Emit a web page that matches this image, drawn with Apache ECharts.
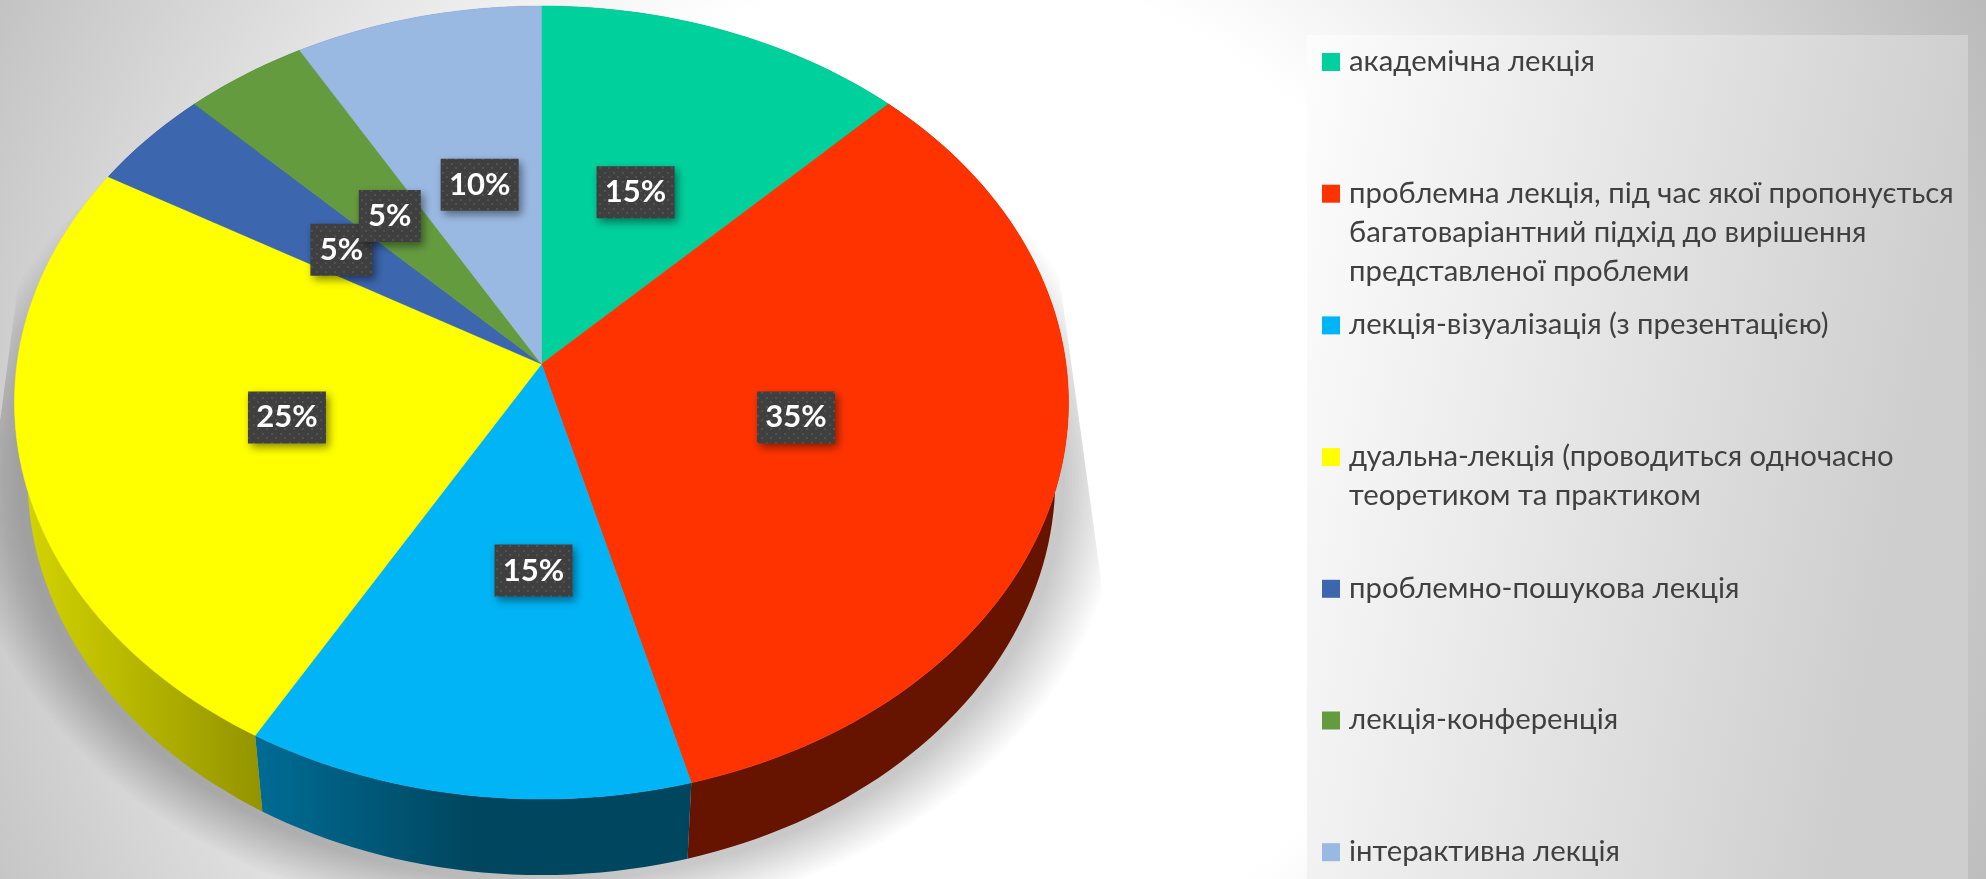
<!DOCTYPE html>
<html>
<head>
<meta charset="utf-8">
<title>Лекції</title>
<style>
  html, body { margin: 0; padding: 0; background: #fff; }
  #chart { width: 1986px; height: 879px; }
</style>
<script src="https://cdn.jsdelivr.net/npm/echarts@6/dist/echarts.min.js"></script>
</head>
<body>
<div id="chart"></div>
<script>
// legend names, \n is where the reference wraps
var categories = [
  'академічна лекція',
  'проблемна лекція, під час якої пропонується\nбагатоваріантний підхід до вирішення\nпредставленої проблеми',
  'лекція-візуалізація (з презентацією)',
  'дуальна-лекція (проводиться одночасно\nтеоретиком та практиком',
  'проблемно-пошукова лекція',
  'лекція-конференція',
  'інтерактивна лекція'
];
// the wedges as they are drawn in the picture
var sliceValues = [15, 40, 15, 30, 5, 5, 10];
// the labels as printed, they do not follow the wedge sizes exactly in the source
var percentLabels = ['15%', '35%', '15%', '25%', '5%', '5%', '10%'];
var topColors = ['#00D09C', '#FF3300', '#00B4F5', '#FFFF00', '#3C66AE', '#659B3F', '#9AB9E2'];
var wallColors = [
  ['#00806a', '#00806a', '#00806a'],
  ['#661400', '#661400', '#661400'],
  ['#006c96', '#00465e', '#00465e'],
  ['#d6d600', '#b5b500', '#939300'],
  ['#24406e', '#24406e', '#24406e'],
  ['#3f6127', '#3f6127', '#3f6127'],
  ['#5f748f', '#5f748f', '#5f748f']
];
// hand placement of the boxes in the source, in px from the wedge centre
var labelShiftX = [-2, -2, 28, 2, 2, 2, 3];

var FONT = 'Lato, "Open Sans", sans-serif';

// disc projection: apex of the slices, axes and perspective
var APEX_X = 541.5, APEX_Y = 364;
var AX = 524.5, BY = 392.8, PERSP = 0.0971;
var RIM_DROP = 76, RIM_SHRINK = 0.975;
var SHADOW_STEPS = 18;
var total = sliceValues.reduce(function (a, b) { return a + b; }, 0);

function project(deg, f) {
  var t = deg * Math.PI / 180;
  var u = Math.sin(t) * f, v = -Math.cos(t) * f;
  var w = 1 - PERSP * v;
  return [APEX_X + AX * u / w, APEX_Y + BY * v / w];
}
function sliceAngles(i) {
  var before = 0;
  for (var k = 0; k < i; k++) before += sliceValues[k];
  return [before / total * 360, (before + sliceValues[i]) / total * 360];
}
function arc(a0, a1) {
  var pts = [];
  var n = Math.max(2, Math.ceil((a1 - a0) / 1.5));
  for (var k = 0; k <= n; k++) pts.push(project(a0 + (a1 - a0) * k / n, 1));
  return pts;
}
function toRim(p) {
  return [APEX_X + (p[0] - APEX_X) * RIM_SHRINK, p[1] + RIM_DROP];
}
// the shadow is cut by two straight edges left and right of the disc
function clampShadow(p) {
  var maxX = 1082 + (p[1] - 440) * 0.1377;
  var minX = 18 - (p[1] - 283) * 0.131;
  return [Math.max(minX, Math.min(maxX, p[0])), p[1]];
}

// dotted fill of the label boxes
function dotTile() {
  var c = document.createElement('canvas');
  c.width = 9; c.height = 9;
  var g = c.getContext('2d');
  g.fillStyle = '#3f3f3f';
  g.fillRect(0, 0, 9, 9);
  g.fillStyle = '#515151';
  g.fillRect(1, 1, 2, 2);
  g.fillRect(5, 5, 2, 2);
  return c;
}
var tile = dotTile();

var chart = echarts.init(document.getElementById('chart'), null, { renderer: 'canvas' });

var legendGraphics = [];
categories.forEach(function (name, i) {
  var rowY = 62 + i * 131.7;
  legendGraphics.push({
    type: 'rect', z: 5,
    shape: { x: 1322, y: rowY - 9, width: 18, height: 18 },
    style: { fill: topColors[i] }
  });
  legendGraphics.push({
    type: 'text', z: 5, x: 1349, y: rowY - 20,
    style: { text: name, font: '400 29.3px ' + FONT, fill: '#404040', lineHeight: 39, textVerticalAlign: 'top' }
  });
});

var option = {
  animation: false,
  backgroundColor: {
    type: 'radial', x: 950, y: 470, r: 1200, global: true,
    colorStops: [
      { offset: 0, color: '#ffffff' },
      { offset: 0.417, color: '#ffffff' },
      { offset: 1, color: '#b4b4b4' }
    ]
  },
  graphic: [{
    type: 'rect', z: 1,
    shape: { x: 1307, y: 35, width: 661, height: 844 },
    style: {
      fill: new echarts.graphic.LinearGradient(0, 0, 1, 0.15, [
        { offset: 0, color: '#fdfdfd' },
        { offset: 1, color: '#cecece' }
      ])
    }
  }].concat(legendGraphics),
  series: [
    // ground shadow: stacked translucent rings give the soft outer edge
    {
      type: 'custom', coordinateSystem: 'none', z: 2, silent: true,
      data: [0],
      renderItem: function () {
        var rings = [];
        for (var s = 0; s < SHADOW_STEPS; s++) {
          var scale = 1.13 - 0.11 * s / (SHADOW_STEPS - 1);
          var ring = arc(0, 360).map(toRim).map(function (p) {
            return clampShadow([APEX_X + (p[0] - APEX_X) * scale, 478 + (p[1] - 478) * scale]);
          });
          rings.push({ type: 'polygon', shape: { points: ring }, style: { fill: 'rgba(0,0,0,0.0125)' } });
        }
        return { type: 'group', children: rings };
      }
    },
    // side walls
    {
      type: 'custom', coordinateSystem: 'none', z: 3, silent: true,
      data: sliceValues,
      renderItem: function (params) {
        var i = params.dataIndex;
        var ang = sliceAngles(i);
        var top = arc(ang[0], ang[1]);
        var rim = top.map(toRim).reverse();
        return {
          type: 'polygon',
          shape: { points: top.concat(rim) },
          style: {
            fill: new echarts.graphic.LinearGradient(0, 0, 1, 0, [
              { offset: 0, color: wallColors[i][0] },
              { offset: 0.5, color: wallColors[i][1] },
              { offset: 1, color: wallColors[i][2] }
            ])
          }
        };
      }
    },
    // top faces
    {
      type: 'custom', coordinateSystem: 'none', z: 4, silent: true,
      data: sliceValues,
      renderItem: function (params) {
        var i = params.dataIndex;
        var ang = sliceAngles(i);
        return {
          type: 'polygon',
          shape: { points: [[APEX_X, APEX_Y]].concat(arc(ang[0], ang[1])) },
          style: { fill: topColors[i], stroke: topColors[i], lineWidth: 0.5 }
        };
      }
    },
    // value labels, dark boxes
    {
      type: 'custom', coordinateSystem: 'none', z: 6, silent: true,
      data: sliceValues,
      renderItem: function (params) {
        var i = params.dataIndex;
        var ang = sliceAngles(i);
        var c = project((ang[0] + ang[1]) / 2, 0.5);
        var cx = c[0] + labelShiftX[i];
        var cy = c[1] + 2;
        var w = percentLabels[i].length === 2 ? 62 : 78, h = 52;
        return {
          type: 'group',
          children: [
            {
              type: 'rect',
              shape: { x: cx - w / 2, y: cy - h / 2, width: w, height: h },
              style: {
                fill: { image: tile, repeat: 'repeat' },
                shadowBlur: 8, shadowOffsetX: 3, shadowOffsetY: 4, shadowColor: 'rgba(0,0,0,0.45)'
              }
            },
            {
              type: 'text', x: cx, y: cy,
              style: {
                text: percentLabels[i], font: '700 31px ' + FONT, fill: '#ffffff',
                align: 'center', verticalAlign: 'middle'
              }
            }
          ]
        };
      }
    }
  ]
};

chart.setOption(option);
</script>
</body>
</html>
